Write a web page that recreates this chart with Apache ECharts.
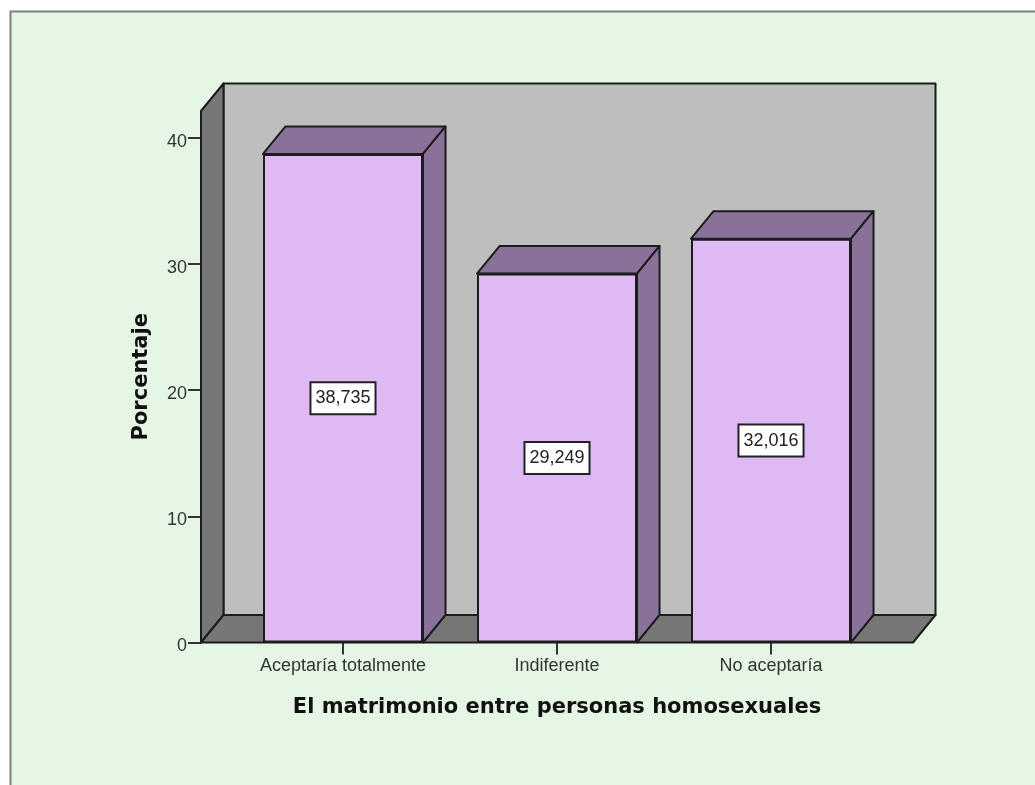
<!DOCTYPE html>
<html><head><meta charset="utf-8">
<style>html,body{margin:0;padding:0;background:#fff}#c{width:1035px;height:785px}</style>
<script src="https://cdn.jsdelivr.net/npm/echarts@6/dist/echarts.min.js"></script>
</head><body><div id="c"></div>
<script>
const categories = ['Aceptaría totalmente', 'Indiferente', 'No aceptaría'];
const percentages = [38.735, 29.249, 32.016];
const yTicks = [0, 10, 20, 30, 40];
const xTitle = 'El matrimonio entre personas homosexuales';
const yTitle = 'Porcentaje';

const DX = 22.5, DY = -27.5, SIDE = 35, LINE = '#1c1c1c';
const chart = echarts.init(document.getElementById('c'), null, {renderer:'canvas'});
const poly = (pts, fill) => ({type:'polygon', shape:{points:pts},
  style:{fill, stroke:LINE, lineWidth:2, lineJoin:'round'}});

chart.setOption({
  animation:false,
  graphic:[{type:'rect', silent:true, z:-10, shape:{x:10.5,y:11.5,width:1200,height:1000},
    style:{fill:'#E5F6E5', stroke:'#7f7f7f', lineWidth:2}}],
  grid:{left:236, top:111, width:642, height:531.5},
  xAxis:{type:'category', data:categories,
    name:xTitle, nameLocation:'middle', nameGap:55,
    nameTextStyle:{fontFamily:'DejaVu Sans', fontWeight:'bold', fontSize:21, color:'#111'},
    axisLine:{show:false},
    axisTick:{show:true, alignWithLabel:true, length:12, lineStyle:{color:'#333', width:2}},
    axisLabel:{fontFamily:'Liberation Sans', fontSize:18, color:'#333', margin:15, interval:0}},
  yAxis:{type:'value', min:0, max:42.14, interval:10, offset:SIDE,
    name:yTitle, nameLocation:'middle', nameGap:49, nameRotate:90,
    nameTextStyle:{fontFamily:'DejaVu Sans', fontWeight:'bold', fontSize:21, color:'#111'},
    splitLine:{show:false},
    axisLine:{show:false},
    axisTick:{show:true, length:13, customValues:yTicks, lineStyle:{color:'#333', width:2}},
    axisLabel:{fontFamily:'Liberation Sans', fontSize:18, color:'#333', margin:14, customValues:yTicks, verticalAlign:'top', lineHeight:8}},
  series:[
    {type:'custom', z:1, silent:true, data:[0], encode:{x:-1,y:-1},
     renderItem(params, api){
       const g = params.coordSys, l = g.x - SIDE, r = g.x + g.width + SIDE, b = g.y + g.height, t = g.y;
       return {type:'group', children:[
         poly([[l+DX,t+DY],[r+DX,t+DY],[r+DX,b+DY],[l+DX,b+DY]], '#BEBEBE'),
         poly([[l,b],[l+DX,b+DY],[l+DX,t+DY],[l,t]], '#777777'),
         poly([[l,b],[r,b],[r+DX,b+DY],[l+DX,b+DY]], '#777777')
       ]};
     }},
    {type:'custom', z:2, silent:true, data:percentages.map((v,i)=>[i,v]), encode:{x:0,y:1},
     renderItem(params, api){
       const p = api.coord([api.value(0), api.value(1)]), b = api.coord([api.value(0), 0]);
       const w = api.size([1,0])[0]*0.7477/2, L=p[0]-w, R=p[0]+w;
       return {type:'group', children:[
         poly([[L,p[1]],[R,p[1]],[R+DX,p[1]+DY],[L+DX,p[1]+DY]], '#89719A'),
         poly([[R,p[1]],[R+DX,p[1]+DY],[R+DX,b[1]+DY],[R,b[1]]], '#89719A')
       ]};
     }},
    {type:'bar', z:3, data:percentages, barWidth:'74.77%', silent:true,
     itemStyle:{color:'#DFB9F3', borderColor:LINE, borderWidth:2},
     label:{show:true, position:'inside', formatter:p=>p.value.toFixed(3).replace('.',','),
       fontFamily:'Liberation Sans', fontSize:18, color:'#222', backgroundColor:'#fff',
       borderColor:'#222', borderWidth:2, padding:[6,4,6,4]}}
  ]
});
</script></body></html>
